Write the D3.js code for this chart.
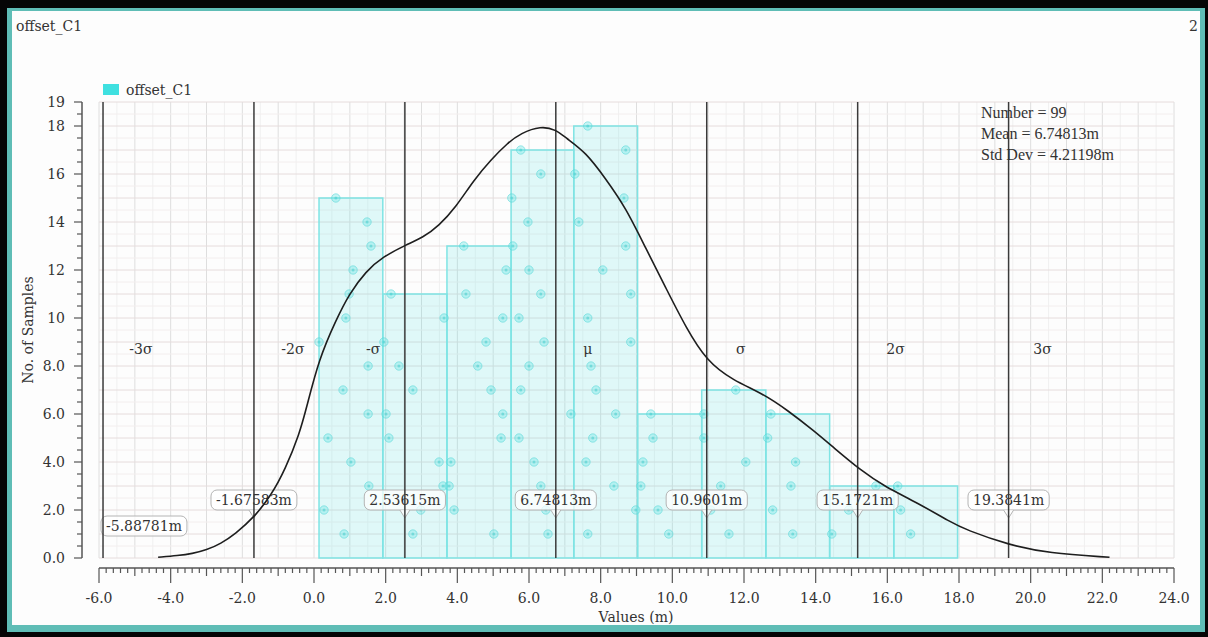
<!DOCTYPE html>
<html>
  <head>
    <meta charset="UTF-8">
    <title>offset_C1 histogram</title>
    <style type="text/css">
      body { margin: 0; background: #000; }
      svg { display: block; }
      text { font-family: 'DejaVu Serif', 'Liberation Serif', serif; font-size: 14px; fill: #333; }
      .stats { font-family: 'Liberation Serif', 'DejaVu Serif', serif; font-size: 16px; }
    </style>
  </head>
  <body>
    <script src="https://cdnjs.cloudflare.com/ajax/libs/d3/7.8.5/d3.min.js"></script>
    <script>

      // Data
      var binEdges = [0.14, 1.92, 3.71, 5.50, 7.25, 9.03, 10.82, 12.61, 14.39, 16.18, 17.96];
      var binCounts = [15, 11, 13, 17, 18, 6, 7, 6, 3, 3];

      // sample values in each bin, listed from the bottom row up
      var samples = [
        [0.84, 0.28, 1.53, 1.03, 0.39, 1.51, 0.81, 1.51, 0.14, 0.89, 0.98, 1.09, 1.59, 1.48, 0.61],
        [2.76, 2.98, 3.60, 3.49, 2.09, 2.01, 2.76, 2.37, 1.95, 3.63, 2.15],
        [5.02, 3.91, 3.77, 3.82, 5.22, 5.27, 4.94, 4.57, 4.80, 5.27, 4.24, 5.36, 4.18],
        [6.53, 6.47, 6.33, 6.14, 5.72, 7.17, 5.77, 6.00, 6.42, 5.72, 6.33, 6.00, 5.55, 5.97, 5.52, 6.33, 5.77],
        [7.64, 8.98, 8.37, 7.59, 7.78, 8.42, 7.87, 7.73, 8.84, 7.64, 8.84, 8.06, 8.70, 7.39, 8.65, 7.28, 8.70, 7.64],
        [9.90, 9.60, 9.12, 9.18, 9.46, 9.40],
        [11.58, 11.07, 11.35, 12.05, 10.88, 10.88, 11.77],
        [13.36, 12.80, 13.31, 13.44, 12.66, 12.75],
        [14.45, 14.92, 15.68],
        [16.65, 16.37, 16.29]
      ];

      var curveX = [-4.35, -3.8, -3.4, -3.0, -2.6, -2.2, -1.67, -1.2, -0.8, -0.4, -0.22, 0.14, 0.61, 0.98,
                    1.45, 1.92, 2.57, 3.04, 3.49, 3.95, 4.46, 4.94, 5.41, 5.77, 6.33, 6.75, 7.03, 7.59,
                    8.14, 8.70, 9.26, 9.82, 10.38, 10.96, 11.69, 12.53, 13.22, 13.95, 14.50, 15.26,
                    15.90, 16.84, 17.76, 18.2, 19.4, 20.5, 22.2];
      var curveY = [0.03, 0.1, 0.18, 0.33, 0.6, 1.0, 1.7, 2.6, 3.7, 5.2, 6.2, 8.3, 9.9, 11.0,
                    11.95, 12.55, 13.05, 13.35, 13.85, 14.6, 15.75, 16.6, 17.3, 17.7, 18.0, 17.85, 17.5, 16.9,
                    15.8, 14.6, 12.9, 11.25, 9.6, 8.2, 7.4, 6.85, 6.15, 5.3, 4.6, 3.65,
                    3.0, 2.3, 1.5, 1.17, 0.54, 0.2, 0.03];

      var sigmaValues = [-5.88781, -1.67583, 2.53615, 6.74813, 10.9601, 15.1721, 19.3841];
      var sigmaLabels = ["-5.88781m", "-1.67583m", "2.53615m", "6.74813m", "10.9601m", "15.1721m", "19.3841m"];
      var sigmaNames = ["-3σ", "-2σ", "-σ", "μ", "σ", "2σ", "3σ"];
      var sigmaNameX = [-4.83, -0.59, 1.65, 7.64, 11.91, 16.23, 20.33];

      var statLines = ["Number = 99", "Mean = 6.74813m", "Std Dev = 4.21198m"];
      var xTicks = d3.range(-6, 24.01, 2);
      var yTicks = [0, 2, 4, 6, 8, 10, 12, 14, 16, 18, 19];

      // Build svg
      var svgWidth = 1208, svgHeight = 637;
      var svg = d3.select("body")
                  .append("svg")
                  .attr("width", svgWidth)
                  .attr("height", svgHeight);

      // window frame
      svg.append("rect").attr("width", svgWidth).attr("height", svgHeight).attr("fill", "#050505");
      svg.append("rect").attr("x", 7).attr("y", 8).attr("width", 1198).attr("height", 624).attr("fill", "#5fbdb6");
      svg.append("rect").attr("x", 12).attr("y", 11).attr("width", 1188).attr("height", 614).attr("fill", "#fdfdfd");

      svg.append("text").attr("x", 16).attr("y", 31).text("offset_C1");
      svg.append("text").attr("x", 1198).attr("y", 31)
         .attr("text-anchor", "end").text("2");

      var xScale = d3.scaleLinear().domain([-6, 24]).range([99, 1174]);
      var yScale = d3.scaleLinear().domain([0, 19]).range([558, 102]);

      // Grid
      var grid = svg.append("g");
      grid.selectAll(".vminor")
          .data(d3.range(-6, 24.01, 0.5))
          .enter().append("line")
          .attr("x1", d => xScale(d)).attr("x2", d => xScale(d))
          .attr("y1", yScale(19)).attr("y2", yScale(0))
          .attr("stroke", d => d % 1 === 0 ? "#dedede" : "#f0f0f0")
          .attr("stroke-width", 1);
      grid.selectAll(".hminor")
          .data(d3.range(0, 19.01, 0.5))
          .enter().append("line")
          .attr("x1", xScale(-6)).attr("x2", xScale(24))
          .attr("y1", d => yScale(d)).attr("y2", d => yScale(d))
          .attr("stroke", d => d % 1 === 0 ? "#e6dcdc" : "#f3eeee")
          .attr("stroke-width", 1);

      // Histogram bars
      var bars = binCounts.map((c, i) => ({x0: binEdges[i], x1: binEdges[i + 1], count: c}));
      svg.append("g").selectAll("rect")
         .data(bars)
         .enter().append("rect")
         .attr("x", d => xScale(d.x0))
         .attr("y", d => yScale(d.count))
         .attr("width", d => xScale(d.x1) - xScale(d.x0))
         .attr("height", d => yScale(0) - yScale(d.count))
         .attr("fill", "rgba(80, 225, 225, 0.17)")
         .attr("stroke", "#7fe4e4")
         .attr("stroke-width", 1.5);

      // Sample points
      var points = [];
      samples.forEach(function(bin) {
        bin.forEach(function(v, j) { points.push({v: v, level: j + 1}); });
      });
      var pts = svg.append("g");
      pts.selectAll("circle.outer")
         .data(points)
         .enter().append("circle")
         .attr("cx", d => xScale(d.v))
         .attr("cy", d => yScale(d.level))
         .attr("r", 4.2)
         .attr("fill", "rgba(110, 228, 228, 0.38)")
         .attr("stroke", "rgba(85, 215, 215, 0.55)")
         .attr("stroke-width", 1);
      pts.selectAll("circle.inner")
         .data(points)
         .enter().append("circle")
         .attr("cx", d => xScale(d.v))
         .attr("cy", d => yScale(d.level))
         .attr("r", 1.5)
         .attr("fill", "rgba(70, 205, 205, 0.55)");

      // Value boxes on sigma lines
      var boxes = svg.append("g");
      sigmaValues.forEach(function(v, i) {
        var lx = xScale(v);
        var first = (i === 0);
        var g = boxes.append("g");
        var rect = g.append("rect");
        var txt = g.append("text").text(sigmaLabels[i]);
        var w = txt.node().getComputedTextLength() + 10;
        var bx = first ? lx - 2 : lx - w / 2;
        var by = first ? 516 : 490;
        rect.attr("x", bx).attr("y", by).attr("width", w).attr("height", 20)
            .attr("rx", 6)
            .attr("fill", "rgba(255,255,255,0.75)")
            .attr("stroke", "#b4b4b4");
        if (!first) {
          g.insert("path", "text")
           .attr("d", "M" + (lx - 5) + "," + (by + 20) + "L" + lx + "," + (by + 28) + "L" + (lx + 5) + "," + (by + 20))
           .attr("fill", "rgba(255,255,255,0.75)")
           .attr("stroke", "#b4b4b4");
        }
        txt.attr("x", bx + w / 2).attr("y", by + 15)
           .attr("text-anchor", "middle");
      });

      // Sigma lines
      svg.append("g").selectAll("line")
         .data(sigmaValues)
         .enter().append("line")
         .attr("x1", d => xScale(d)).attr("x2", d => xScale(d))
         .attr("y1", yScale(19)).attr("y2", yScale(0))
         .attr("stroke", "#3a3a3a")
         .attr("stroke-width", 1.5);

      svg.append("g").selectAll("text")
         .data(sigmaNames)
         .enter().append("text")
         .attr("x", (d, i) => xScale(sigmaNameX[i]))
         .attr("y", 354)
         .attr("text-anchor", "middle")
         .text(d => d);

      // Density curve
      var curveData = curveX.map((v, i) => [v, curveY[i]]);
      svg.append("path")
         .datum(curveData)
         .attr("fill", "none")
         .attr("stroke", "#1e1e1e")
         .attr("stroke-width", 1.6)
         .attr("d", d3.line()
                      .x(d => xScale(d[0]))
                      .y(d => yScale(d[1]))
                      .curve(d3.curveBasis));

      // Stats
      svg.append("g").selectAll("text")
         .data(statLines)
         .enter().append("text")
         .attr("class", "stats")
         .attr("x", 981)
         .attr("y", (d, i) => 118 + i * 21)
         .text(d => d);

      // Legend
      svg.append("rect").attr("x", 103).attr("y", 84).attr("width", 16).attr("height", 11).attr("fill", "#3fe0e0");
      svg.append("text").attr("x", 126).attr("y", 95).text("offset_C1");

      // X axis
      var xAxisG = svg.append("g").attr("transform", "translate(0,568)");
      xAxisG.append("line").attr("x1", xScale(-6)).attr("x2", xScale(24))
            .attr("stroke", "#555").attr("stroke-width", 1.5);
      xAxisG.selectAll(".xt")
            .data(d3.range(-6, 24.001, 0.2).map(d => Math.round(d * 10) / 10))
            .enter().append("line")
            .attr("x1", d => xScale(d)).attr("x2", d => xScale(d))
            .attr("y1", 0)
            .attr("y2", d => (Math.abs(d % 2) < 1e-6) ? 15 : (Math.abs(d % 1) < 1e-6 ? 8 : 5))
            .attr("stroke", "#555").attr("stroke-width", 1.2);
      xAxisG.selectAll("text")
            .data(xTicks)
            .enter().append("text")
            .attr("x", d => xScale(d))
            .attr("y", 35)
            .attr("text-anchor", "middle")
            .text(d => d.toFixed(1));
      svg.append("text").attr("x", 636).attr("y", 622)
         .attr("text-anchor", "middle").text("Values (m)");

      // Y axis
      var yAxisG = svg.append("g").attr("transform", "translate(82,0)");
      yAxisG.append("line").attr("y1", yScale(19)).attr("y2", yScale(0))
            .attr("stroke", "#555").attr("stroke-width", 1.5);
      yAxisG.selectAll(".yt")
            .data(d3.range(0, 19.01, 0.5))
            .enter().append("line")
            .attr("y1", d => yScale(d)).attr("y2", d => yScale(d))
            .attr("x1", 0)
            .attr("x2", d => (d % 2 === 0 || d === 19) ? -8 : -5)
            .attr("stroke", "#555").attr("stroke-width", 1.2);
      yAxisG.selectAll("text")
            .data(yTicks)
            .enter().append("text")
            .attr("x", -17)
            .attr("y", d => yScale(d) + 5)
            .attr("text-anchor", "end")
            .text(d => d < 10 ? d.toFixed(1) : d);
      svg.append("text")
         .attr("transform", "translate(33,330) rotate(-90)")
         .attr("text-anchor", "middle").text("No. of Samples");

    </script>
  </body>
</html>
